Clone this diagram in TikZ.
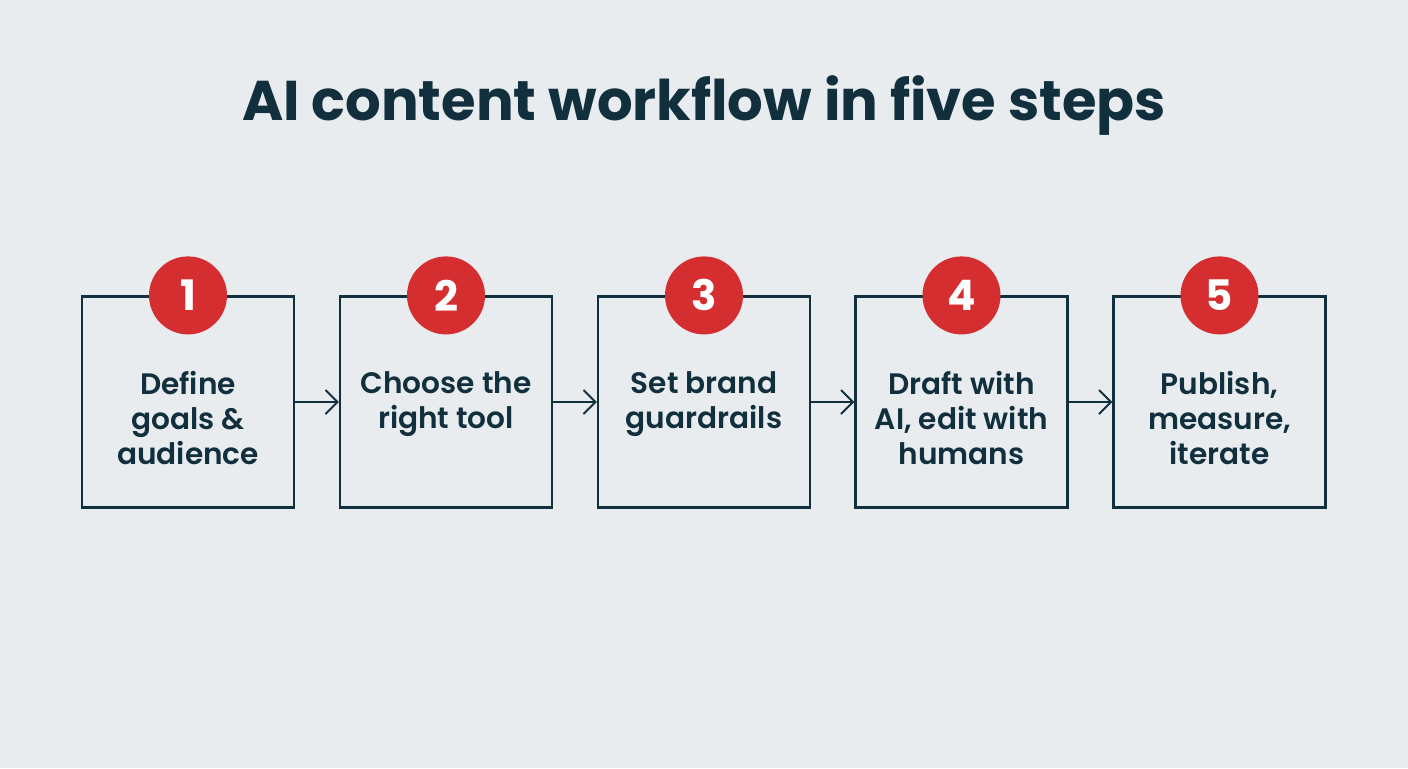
\documentclass[tikz,border=0pt]{standalone}
\usepackage{fontspec}
\setmainfont{Poppins}
\newfontfamily\semifont{Poppins SemiBold}
\usetikzlibrary{positioning,arrows.meta}

\definecolor{bgcol}{HTML}{E8ECEE}
\definecolor{navy}{HTML}{112F3D}
\definecolor{badge}{HTML}{D42E30}

\tikzset{
  stepbox/.style={draw=navy, line width=1.1pt, minimum width=106pt, minimum height=105.5pt},
  steptext/.style={align=center, text=navy, inner sep=0pt, anchor=north,
    font=\fontsize{14.8}{17.5}\selectfont\semifont},
  numdot/.style={circle, fill=badge, minimum size=39pt, inner sep=0pt, text=white,
    font=\fontsize{21}{21}\selectfont\bfseries},
  flow/.style={-{Straight Barb[length=6pt, width=12pt]}, draw=navy, line width=1pt}
}

\begin{document}
\begin{tikzpicture}[x=0.5pt, y=-0.5pt]
    \fill [bgcol] (0,0) rectangle (1408,768);
    
    \node [text=navy, font=\fontsize{28}{32}\selectfont\bfseries] (title) at (704,106) {AI content workflow in five steps};
    
    \node [stepbox] (s1) at (188,402) {};
    \node [numdot] (n1) at (s1.north) {1};
    \node [steptext] (t1) at (188,371) {Define\\goals \&\\audience};
    
    \node [stepbox] (s2) at (446,402) {};
    \node [numdot] (n2) at (s2.north) {2};
    \node [steptext] (t2) at (446,371) {Choose the\\right tool};
    
    \node [stepbox] (s3) at (704,402) {};
    \node [numdot] (n3) at (s3.north) {3};
    \node [steptext] (t3) at (704,371) {Set brand\\guardrails};
    
    \node [stepbox] (s4) at (961.5,402) {};
    \node [numdot] (n4) at (s4.north) {4};
    \node [steptext] (t4) at (961.5,371) {Draft with\\AI, edit with\\humans};
    
    \node [stepbox] (s5) at (1219.5,402) {};
    \node [numdot] (n5) at (s5.north) {5};
    \node [steptext] (t5) at (1219.5,371) {Publish,\\measure,\\iterate};
    
    \draw [flow] (s1) -- (s2);
    \draw [flow] (s2) -- (s3);
    \draw [flow] (s3) -- (s4);
    \draw [flow] (s4) -- (s5);
    
\end{tikzpicture}
\end{document}
